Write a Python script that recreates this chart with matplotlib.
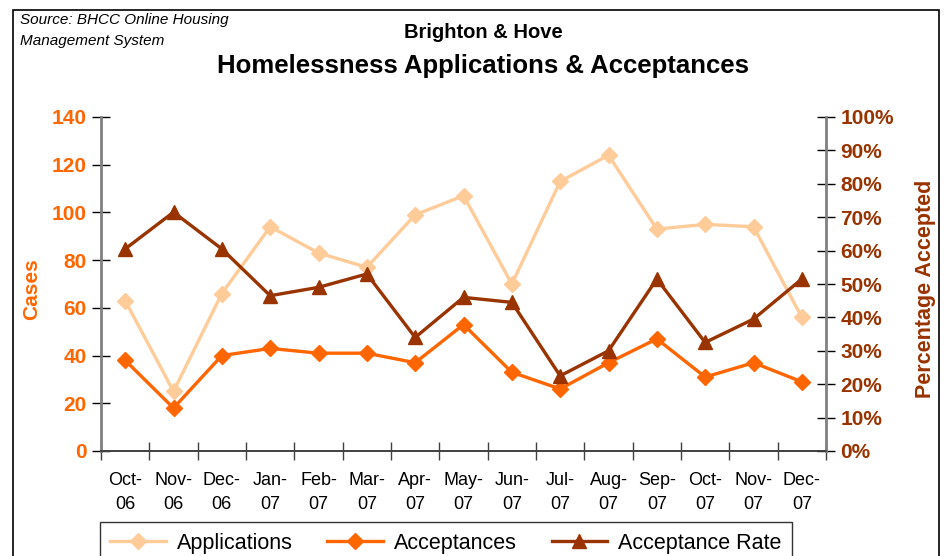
import numpy as np
import matplotlib
matplotlib.use("Agg")
import matplotlib.pyplot as plt
from matplotlib.patches import Rectangle
from matplotlib.ticker import FixedLocator, PercentFormatter

plt.rcParams['font.family'] = ['Liberation Sans', 'DejaVu Sans']

months = ['Oct-\n06', 'Nov-\n06', 'Dec-\n06', 'Jan-\n07', 'Feb-\n07', 'Mar-\n07', 'Apr-\n07',
          'May-\n07', 'Jun-\n07', 'Jul-\n07', 'Aug-\n07', 'Sep-\n07', 'Oct-\n07', 'Nov-\n07', 'Dec-\n07']
applications = [63, 25, 66, 94, 83, 77, 99, 107, 70, 113, 124, 93, 95, 94, 56]
acceptances = [38, 18, 40, 43, 41, 41, 37, 53, 33, 26, 37, 47, 31, 37, 29]
accept_rate = [60.5, 71.5, 60.5, 46.5, 49, 53, 34, 46, 44.5, 22.5, 30, 51.5, 32.5, 39.5, 51.5]

c_app = '#FFCC99'
c_acc = '#FF6600'
c_rate = '#993300'

fig = plt.figure(figsize=(9.44, 5.56), dpi=100)
ax = fig.add_axes([101/944, 1-451/556, 725/944, 334/556])
ax2 = ax.twinx()

x = np.arange(len(months))
ax.plot(x, applications, color=c_app, lw=2.4, marker='D', ms=8.5, label='Applications', zorder=3)
ax.plot(x, acceptances, color=c_acc, lw=2.4, marker='D', ms=8.5, label='Acceptances', zorder=3)
ax2.plot(x, accept_rate, color=c_rate, lw=2.4, marker='^', ms=10.5, label='Acceptance Rate', zorder=3)

ax.set_xlim(-0.5, len(months) - 0.5)
ax.set_ylim(0, 140)
ax2.set_ylim(0, 100)
ax.set_yticks(np.arange(0, 141, 20))
ax2.set_yticks(np.arange(0, 101, 10))
ax2.yaxis.set_major_formatter(PercentFormatter(decimals=0))

ax.set_xticks(x)
ax.set_xticklabels(months, fontsize=13, linespacing=1.55)
ax.xaxis.set_minor_locator(FixedLocator(np.arange(-0.5, len(months), 1)))
ax.tick_params(axis='x', which='major', length=0, pad=15)
ax.tick_params(axis='x', which='minor', direction='inout', length=13, width=1, color='#404040')

ax.tick_params(axis='y', direction='inout', length=13, width=1, color='black', pad=4,
               labelsize=15, labelcolor=c_acc)
ax2.tick_params(axis='y', direction='inout', length=13, width=1, color='black', pad=4,
                labelsize=15, labelcolor=c_rate)
for lab in ax.get_yticklabels():
    lab.set_fontweight('bold')
for lab in ax2.get_yticklabels():
    lab.set_fontweight('bold')

for a in (ax, ax2):
    a.spines['top'].set_visible(False)
    a.spines['left'].set_color('#808080')
    a.spines['right'].set_color('#808080')
    a.spines['left'].set_linewidth(2)
    a.spines['right'].set_linewidth(2)
    a.spines['bottom'].set_color('#404040')
    a.spines['bottom'].set_linewidth(1.2)
ax.spines['right'].set_visible(False)
ax2.spines['left'].set_visible(False)

fig.text(32/944, 1-289/556, 'Cases', rotation=90, fontsize=15, fontweight='bold',
         color=c_acc, ha='center', va='center')
fig.text(925/944, 1-289/556, 'Percentage Accepted', rotation=90, fontsize=15.5,
         fontweight='bold', color=c_rate, ha='center', va='center')

fig.text(483/944, 1-33/556, 'Brighton & Hove', fontsize=14.5, fontweight='bold',
         ha='center', va='center')
fig.text(483/944, 1-66/556, 'Homelessness Applications & Acceptances', fontsize=18.5,
         fontweight='bold', ha='center', va='center')
fig.text(20/944, 1-13/556, 'Source: BHCC Online Housing\nManagement System', fontsize=11,
         style='italic', ha='left', va='top', linespacing=1.6)

h1, l1 = ax.get_legend_handles_labels()
h2, l2 = ax2.get_legend_handles_labels()
leg = fig.legend(h1 + h2, l1 + l2, loc='center', bbox_to_anchor=(446/944, 1-543/556),
                 ncol=3, fontsize=15.5, frameon=True, fancybox=False, handlelength=2.6,
                 handletextpad=0.5, columnspacing=1.6, borderpad=0.5)
leg.get_frame().set_edgecolor('black')
leg.get_frame().set_linewidth(1)

fig.patches.append(Rectangle((13/944, -0.1), 926/944, 1.1 - 10/556, transform=fig.transFigure,
                             fill=False, edgecolor='black', lw=1.2, clip_on=False))

fig.savefig('out.png', dpi=100)
